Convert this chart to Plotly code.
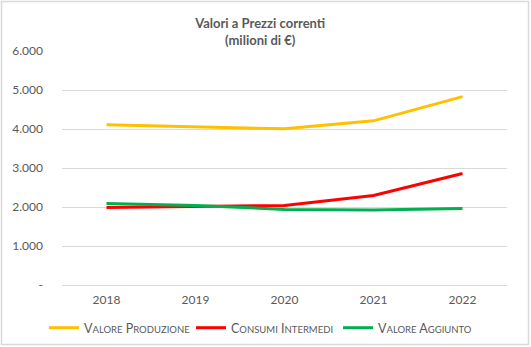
import plotly.graph_objects as go

years = ["2018", "2019", "2020", "2021", "2022"]
valore_produzione = [4107, 4060, 4005, 4209, 4829]
consumi_intermedi = [1990, 2010, 2041, 2296, 2857]
valore_aggiunto = [2092, 2040, 1939, 1921, 1964]
tick_vals = [0, 1000, 2000, 3000, 4000, 5000, 6000]
tick_text = ["-", "1.000", "2.000", "3.000", "4.000", "5.000", "6.000"]

def sc(word_parts):
    out = []
    for w in word_parts:
        out.append(w[0] + "<span style='font-size:9.5px'>" + w[1:].upper() + "</span>")
    return " ".join(out)

series = [
    (sc(["Valore", "Produzione"]), valore_produzione, "#FFC000"),
    (sc(["Consumi", "Intermedi"]), consumi_intermedi, "#FF0000"),
    (sc(["Valore", "Aggiunto"]), valore_aggiunto, "#00B050"),
]

fig = go.Figure()
for name, vals, col in series:
    fig.add_trace(go.Scatter(x=years, y=vals, name=name, mode="lines",
                             line=dict(color=col, width=3)))

W, H = 531, 347
L, R, T, B = 62, 24, 51, 62
pw, ph = W - L - R, H - T - B

font_fam = "Lato, 'Open Sans', sans-serif"
fig.update_layout(
    width=W, height=H,
    margin=dict(l=L, r=R, t=T, b=B, autoexpand=False),
    paper_bgcolor="white", plot_bgcolor="white",
    font=dict(family=font_fam, color="#595959", size=12),
    title=dict(text="<b>Valori a Prezzi correnti<br>(milioni di €)</b>",
               x=0.49, xanchor="center", y=1 - 28 / H, yanchor="middle",
               font=dict(size=13, color="#595959")),
    xaxis=dict(showgrid=False, showline=False, ticks="", range=[-0.5, 4.5],
               tickfont=dict(size=12, color="#595959"), ticklabelstandoff=6),
    yaxis=dict(range=[0, 6000], tickvals=tick_vals, ticktext=tick_text,
               showgrid=True, gridcolor="#D9D9D9", gridwidth=1,
               zeroline=True, zerolinecolor="#D9D9D9", zerolinewidth=1,
               tickfont=dict(size=12, color="#595959"), ticklabelstandoff=18),
    legend=dict(orientation="h", x=(44 - L) / pw, xanchor="left", y=-0.12, yanchor="top",
                font=dict(size=12.5, color="#595959"), itemwidth=30,
                entrywidth=102, entrywidthmode="pixels"),
    showlegend=True,
    shapes=[dict(type="rect", xref="paper", yref="paper",
                 x0=(1.5 - L) / pw, x1=(W - 2.5 - L) / pw,
                 y0=-(H - 2.5 - (T + ph)) / ph, y1=1 + (T - 1.5) / ph,
                 line=dict(color="#D9D9D9", width=1.5))],
)
fig.write_html("out.html")
